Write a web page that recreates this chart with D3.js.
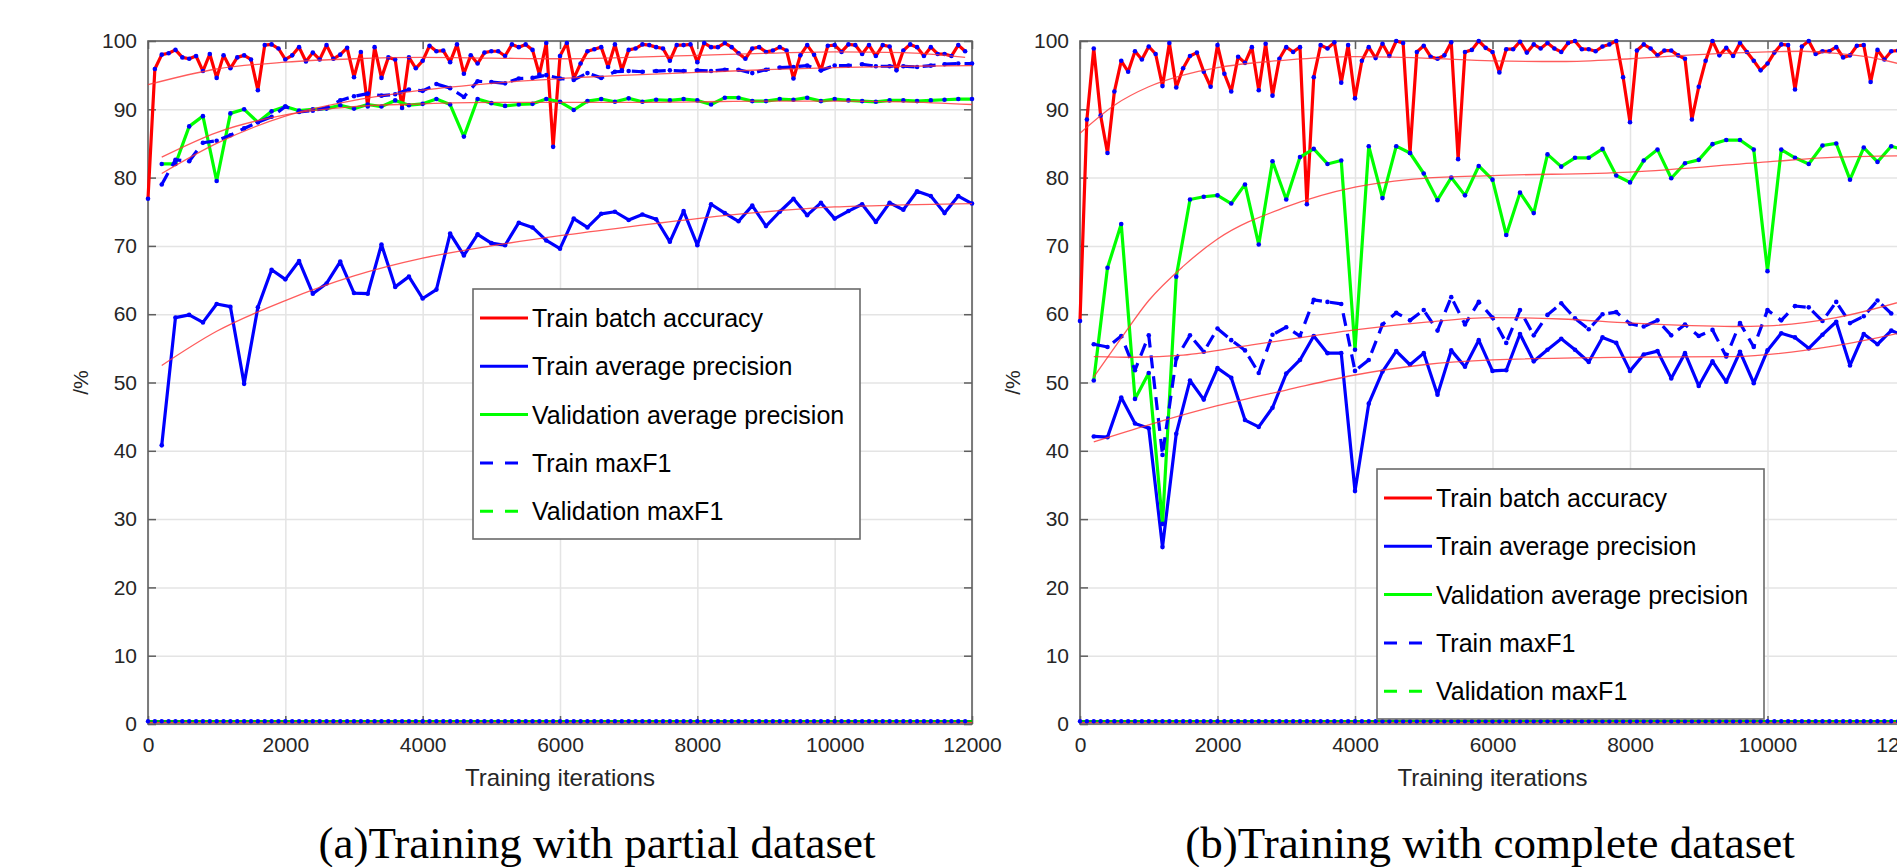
<!DOCTYPE html>
<html>
<head>
<meta charset="utf-8">
<script src="https://cdn.jsdelivr.net/npm/d3@7"></script>
<style>
  body { margin: 0; background: #fff; }
  svg { display: block; font-family: "Liberation Sans", Arial, sans-serif; }
</style>
</head>
<body>
<svg id="chart"></svg>
<script>
// iteration grids (x values)
const accIters = d3.range(0, 12000, 100);      // every 100 iterations, 0..11900
const apIters = d3.range(200, 12001, 200);     // every 200 iterations, 200..12000
const xTicks = [0, 2000, 4000, 6000, 8000, 10000, 12000];
const yTicks = [0, 10, 20, 30, 40, 50, 60, 70, 80, 90, 100];

const legendLabels = ['Train batch accuracy', 'Train average precision', 'Validation average precision', 'Train maxF1', 'Validation maxF1'];
const captions = ['(a)Training with partial dataset', '(b)Training with complete dataset'];

// ---- (a) partial dataset ----
const partialAcc = [
  76.9, 95.9, 98.0, 98.2, 98.7, 97.6, 97.4, 97.8, 95.6, 98.1,
  94.6, 97.9, 96.0, 97.6, 97.9, 97.3, 92.8, 99.4, 99.5, 98.9,
  97.3, 97.9, 99.1, 97.0, 98.3, 97.3, 99.4, 97.4, 98.0, 99.0,
  94.7, 98.4, 90.4, 99.1, 94.6, 97.6, 97.3, 90.2, 97.6, 96.0,
  97.1, 99.3, 98.5, 98.6, 96.9, 99.5, 95.2, 97.9, 96.7, 98.3,
  98.5, 98.5, 97.8, 99.5, 99.1, 99.5, 98.7, 95.1, 99.7, 84.5,
  97.8, 99.7, 94.5, 96.7, 98.5, 98.8, 99.1, 96.2, 99.5, 95.7,
  98.7, 98.9, 99.5, 99.4, 99.1, 98.9, 97.1, 99.4, 99.4, 99.5,
  96.9, 99.7, 99.1, 99.1, 99.7, 99.1, 98.2, 97.4, 98.9, 99.1,
  98.4, 98.6, 99.1, 98.6, 94.5, 97.9, 99.4, 98.0, 95.7, 99.3,
  99.4, 98.4, 99.5, 99.4, 98.1, 99.4, 97.8, 99.4, 99.2, 95.7,
  98.6, 99.5, 99.1, 97.8, 99.1, 98.1, 98.1, 97.8, 99.4, 98.5
];
const partialAP = [
  40.8, 59.5, 59.9, 58.8, 61.5, 61.1, 49.8, 61.0, 66.5, 65.1,
  67.8, 63.0, 64.5, 67.7, 63.1, 63.0, 70.2, 64.0, 65.5, 62.3,
  63.6, 71.8, 68.6, 71.7, 70.4, 70.1, 73.4, 72.7, 70.8, 69.6,
  74.0, 72.7, 74.7, 75.0, 73.8, 74.6, 73.9, 70.6, 75.1, 70.1,
  76.1, 74.8, 73.6, 75.9, 72.9, 75.0, 76.9, 74.5, 76.3, 74.0,
  75.1, 76.1, 73.5, 76.3, 75.3, 78.0, 77.3, 74.8, 77.3, 76.2
];
const partialValAP = [
  82.0, 82.0, 87.5, 89.0, 79.5, 89.4, 90.0, 88.1, 89.7, 90.4,
  89.8, 90.0, 90.1, 90.6, 90.1, 90.7, 90.4, 91.3, 90.6, 90.8,
  91.5, 90.7, 86.0, 91.5, 90.9, 90.5, 90.7, 90.8, 91.5, 91.1,
  89.9, 91.2, 91.5, 91.1, 91.6, 91.1, 91.4, 91.3, 91.5, 91.3,
  90.7, 91.7, 91.7, 91.2, 91.2, 91.5, 91.4, 91.7, 91.2, 91.5,
  91.3, 91.2, 91.1, 91.3, 91.3, 91.2, 91.3, 91.4, 91.5, 91.5
];
const partialF1 = [
  79.0, 82.6, 82.4, 85.1, 85.4, 86.2, 87.2, 88.1, 88.9, 90.4,
  89.6, 89.8, 90.2, 91.3, 91.9, 92.3, 92.0, 92.2, 92.9, 92.7,
  93.7, 93.1, 91.8, 94.1, 94.0, 93.8, 94.5, 94.6, 95.0, 94.5,
  94.3, 95.3, 94.6, 95.5, 95.6, 95.5, 95.6, 95.7, 95.6, 95.7,
  95.6, 95.8, 95.8, 95.3, 95.8, 96.1, 96.2, 96.4, 95.7, 96.4,
  96.4, 96.6, 96.3, 96.3, 96.3, 96.2, 96.4, 96.6, 96.7, 96.7
];
// trend curves [iteration, value]
const partialFitAcc = [[0, 93.6], [1000, 95.9], [2000, 96.9], [3000, 97.4], [4000, 97.6], [5000, 97.5], [6000, 97.4], [7000, 97.6], [8000, 97.9], [9000, 98.2], [10000, 98.4], [11000, 98.3], [11900, 97.6]];
const partialFitAP = [[200, 52.5], [1000, 57.5], [2000, 62.0], [3000, 65.6], [4000, 68.2], [5000, 70.0], [6000, 71.5], [7000, 72.8], [8000, 74.0], [9000, 75.0], [10000, 75.7], [11000, 76.0], [12000, 76.2]];
const partialFitVal = [[200, 83.0], [1000, 86.6], [2000, 89.2], [3000, 90.4], [4000, 90.8], [5000, 91.0], [6000, 91.0], [7000, 91.0], [8000, 91.1], [9000, 91.2], [10000, 91.2], [11000, 91.1], [12000, 90.7]];
const partialFitF1 = [[200, 80.6], [1000, 85.0], [2000, 89.0], [3000, 91.3], [4000, 92.8], [5000, 93.8], [6000, 94.5], [7000, 95.0], [8000, 95.4], [9000, 95.8], [10000, 96.1], [11000, 96.3], [12000, 96.4]];

// ---- (b) complete dataset ----
const completeAcc = [
  59.0, 88.5, 98.9, 89.1, 83.6, 92.6, 97.1, 95.5, 98.5, 97.3,
  99.2, 98.1, 93.4, 99.7, 93.2, 96.0, 97.8, 98.3, 95.5, 93.3,
  99.4, 95.2, 92.6, 97.7, 96.8, 99.1, 92.8, 99.6, 92.0, 97.4,
  99.1, 98.4, 99.1, 76.1, 94.7, 99.4, 98.9, 99.8, 93.9, 99.4,
  91.6, 97.1, 99.1, 97.5, 99.6, 97.8, 100.0, 99.7, 83.6, 98.4,
  99.3, 97.7, 97.4, 97.9, 99.8, 82.7, 98.4, 98.7, 100.0, 99.0,
  98.4, 95.4, 98.8, 98.8, 99.9, 98.3, 99.5, 98.9, 99.7, 98.9,
  98.4, 99.7, 100.0, 98.8, 98.8, 98.5, 99.2, 99.5, 100.0, 94.7,
  88.1, 98.6, 99.5, 98.9, 97.9, 98.6, 98.6, 97.9, 97.4, 88.5,
  93.3, 97.1, 100.0, 97.9, 99.0, 97.8, 99.7, 98.4, 97.1, 95.7,
  96.7, 98.3, 99.5, 99.4, 92.9, 99.2, 100.0, 98.1, 98.5, 98.5,
  99.1, 97.6, 97.9, 99.3, 99.4, 94.0, 98.7, 97.3, 98.5, 98.6
];
const completeAP = [
  42.1, 42.0, 47.8, 44.0, 43.3, 25.9, 42.5, 50.3, 47.5, 52.1,
  50.7, 44.5, 43.5, 46.3, 51.3, 53.3, 56.8, 54.3, 54.3, 34.1,
  46.9, 51.6, 54.6, 52.6, 54.3, 48.2, 54.7, 52.3, 56.2, 51.7,
  51.8, 57.1, 53.1, 54.8, 56.4, 54.8, 53.0, 56.6, 55.8, 51.7,
  54.1, 54.6, 50.6, 54.3, 49.5, 53.1, 50.1, 54.5, 49.9, 54.7,
  57.2, 56.6, 55.0, 57.0, 58.9, 52.5, 57.1, 55.6, 57.6, 56.8
];
const completeValAP = [
  50.3, 66.8, 73.2, 47.6, 51.4, 29.3, 65.5, 76.8, 77.2, 77.4,
  76.2, 79.0, 70.2, 82.4, 76.8, 83.0, 84.2, 82.0, 82.5, 54.8,
  84.6, 77.0, 84.6, 83.6, 80.6, 76.7, 80.0, 77.4, 81.7, 79.7,
  71.6, 77.8, 74.8, 83.4, 81.6, 82.9, 82.9, 84.2, 80.3, 79.3,
  82.5, 84.1, 79.9, 82.1, 82.6, 84.9, 85.5, 85.5, 84.1, 66.3,
  84.1, 82.9, 82.0, 84.7, 85.0, 79.7, 84.4, 82.3, 84.6, 84.0
];
const completeF1 = [
  55.6, 55.2, 56.8, 51.8, 56.9, 39.4, 53.5, 56.9, 54.5, 57.9,
  56.2, 54.7, 51.4, 57.0, 58.1, 56.8, 62.1, 61.8, 61.5, 51.7,
  53.3, 58.5, 60.2, 59.1, 60.6, 57.6, 62.5, 58.5, 61.8, 59.5,
  55.8, 60.6, 56.9, 59.9, 61.6, 59.4, 57.8, 60.0, 60.3, 58.6,
  58.2, 59.1, 56.9, 58.5, 56.8, 57.7, 53.8, 58.7, 55.2, 60.6,
  59.1, 61.2, 61.0, 59.0, 61.8, 58.7, 59.7, 62.0, 60.1, 60.5
];
const completeFitAcc = [[0, 86.5], [500, 90.6], [1000, 93.3], [1500, 95.0], [2000, 96.1], [3000, 97.2], [4000, 97.7], [5000, 97.5], [6000, 97.1], [7000, 97.0], [8000, 97.4], [9000, 98.0], [10000, 98.4], [10500, 98.5], [11000, 98.2], [11500, 97.6], [11900, 96.7]];
const completeFitAP = [[200, 41.3], [1000, 43.8], [2000, 46.6], [3000, 48.9], [4000, 51.1], [5000, 52.6], [6000, 53.3], [8000, 53.7], [9500, 53.8], [11000, 55.4], [12000, 57.4]];
const completeFitVal = [[200, 50.8], [600, 56.5], [1000, 62.0], [1500, 67.0], [2000, 71.0], [3000, 75.7], [4000, 78.6], [5000, 79.9], [6000, 80.3], [8000, 80.8], [10000, 82.3], [11000, 83.0], [12000, 83.2]];
const completeFitF1 = [[200, 53.8], [800, 53.7], [1500, 54.0], [2500, 55.5], [3500, 57.0], [4000, 57.7], [5000, 58.8], [6000, 59.5], [7000, 59.3], [8000, 58.7], [9500, 58.2], [10000, 58.3], [11000, 59.5], [12000, 62.0]];

// validation maxF1 stays at zero in both runs
const validationMaxF1Level = 0.4;

class TrainingChart {

  constructor(_config, _data) {
    this.config = {
      parentElement: _config.parentElement,
      left: _config.left,
      top: _config.top || 41,
      width: _config.width || 824,
      height: _config.height || 683,
      legendX: _config.legendX,
      legendY: _config.legendY,
      caption: _config.caption,
      captionX: _config.captionX
    }
    this.data = _data;
    this.initVis();
  }

  initVis() {
    let vis = this;
    const w = vis.config.width, h = vis.config.height;

    vis.chart = vis.config.parentElement.append('g')
        .attr('transform', `translate(${vis.config.left},${vis.config.top})`);

    vis.x = d3.scaleLinear().domain([0, 12000]).range([0, w]);
    vis.y = d3.scaleLinear().domain([0, 100]).range([h, 0]);

    // grid
    vis.chart.append('g')
        .attr('class', 'grid')
        .call(d3.axisLeft(vis.y).tickValues(yTicks).tickSize(-w).tickFormat(''))
        .call(g => g.select('.domain').remove());
    vis.chart.append('g')
        .attr('class', 'grid')
        .attr('transform', `translate(0,${h})`)
        .call(d3.axisBottom(vis.x).tickValues(xTicks).tickSize(-h).tickFormat(''))
        .call(g => g.select('.domain').remove());
    vis.chart.selectAll('.grid line').attr('stroke', '#e4e4e4').attr('stroke-width', 1.5);

    // box
    vis.chart.append('rect')
        .attr('width', w).attr('height', h)
        .attr('fill', 'none').attr('stroke', '#5f5f5f').attr('stroke-width', 1.6);

    // axes with inward ticks
    vis.chart.append('g')
        .attr('class', 'axis')
        .call(d3.axisLeft(vis.y).tickValues(yTicks).tickSizeInner(-8).tickSizeOuter(0).tickPadding(11));
    vis.chart.append('g')
        .attr('class', 'axis')
        .attr('transform', `translate(${w},0)`)
        .call(d3.axisRight(vis.y).tickValues(yTicks).tickSizeInner(-8).tickSizeOuter(0).tickFormat(''));
    vis.chart.append('g')
        .attr('class', 'axis')
        .attr('transform', `translate(0,${h})`)
        .call(d3.axisBottom(vis.x).tickValues(xTicks).tickSizeInner(-8).tickSizeOuter(0).tickPadding(13).tickFormat(d3.format('d')));
    vis.chart.append('g')
        .attr('class', 'axis')
        .call(d3.axisTop(vis.x).tickValues(xTicks).tickSizeInner(-8).tickSizeOuter(0).tickFormat(''));
    vis.chart.selectAll('.axis .domain').remove();
    vis.chart.selectAll('.axis line').attr('stroke', '#5f5f5f').attr('stroke-width', 1.5);
    vis.chart.selectAll('.axis text')
        .attr('fill', '#262626')
        .style('font-size', '21px')
        .style('font-family', '"Liberation Sans", Arial, sans-serif');

    // labels
    vis.chart.append('text')
        .attr('x', w / 2).attr('y', h + 62)
        .attr('text-anchor', 'middle')
        .attr('fill', '#262626')
        .style('font-size', '24px')
        .text('Training iterations');
    vis.chart.append('text')
        .attr('transform', `translate(-67,${h / 2 - 0}) rotate(-90)`)
        .attr('text-anchor', 'middle')
        .attr('dy', '0.35em')
        .attr('fill', '#262626')
        .style('font-size', '21px')
        .text('/%');
    vis.chart.append('text')
        .attr('x', vis.config.captionX - vis.config.left).attr('y', 817)
        .attr('text-anchor', 'middle')
        .attr('fill', '#000')
        .style('font-family', '"Liberation Serif", "Times New Roman", serif')
        .style('font-size', '45px')
        .text(vis.config.caption);

    vis.line = d3.line().x(d => vis.x(d[0])).y(d => vis.y(d[1]));
    vis.fitLine = d3.line().x(d => vis.x(d[0])).y(d => vis.y(d[1])).curve(d3.curveMonotoneX);

    vis.render();
  }

  render() {
    let vis = this;
    const d = vis.data;
    const zip = (iters, vals) => vals.map((v, i) => [iters[i], v]);

    const series = [
      { pts: zip(accIters, d.acc), color: '#ff0000', dash: null },
      { pts: zip(apIters, d.ap), color: '#0000ff', dash: null },
      { pts: zip(apIters, d.val), color: '#00ff00', dash: null },
      { pts: zip(apIters, d.f1), color: '#0000ff', dash: '13,8' }
    ];

    // zero band (validation maxF1 and friends sitting at 0)
    vis.chart.append('path')
        .attr('d', vis.line([[0, validationMaxF1Level], [12000, validationMaxF1Level]]))
        .attr('fill', 'none').attr('stroke', '#00c000').attr('stroke-width', 2.5);
    vis.chart.append('path')
        .attr('d', vis.line([[0, validationMaxF1Level * 0.5], [12000, validationMaxF1Level * 0.5]]))
        .attr('fill', 'none').attr('stroke', '#ff3030').attr('stroke-width', 1);
    vis.chart.append('g').selectAll('circle')
        .data(accIters)
      .join('circle')
        .attr('cx', it => vis.x(it))
        .attr('cy', vis.y(validationMaxF1Level))
        .attr('r', 2.2)
        .attr('fill', '#0000ff');

    vis.chart.selectAll('.series')
        .data(series)
      .join('path')
        .attr('class', 'series')
        .attr('d', s => vis.line(s.pts))
        .attr('fill', 'none')
        .attr('stroke', s => s.color)
        .attr('stroke-width', 3.2)
        .attr('stroke-linejoin', 'round')
        .attr('stroke-dasharray', s => s.dash);

    // blue point markers
    vis.chart.append('g').selectAll('circle')
        .data(series.flatMap(s => s.pts))
      .join('circle')
        .attr('cx', p => vis.x(p[0]))
        .attr('cy', p => vis.y(p[1]))
        .attr('r', 2.3)
        .attr('fill', '#0000ff');

    // trend curves
    vis.chart.selectAll('.fit')
        .data([d.fitAcc, d.fitAP, d.fitVal, d.fitF1])
      .join('path')
        .attr('class', 'fit')
        .attr('d', f => vis.fitLine(f))
        .attr('fill', 'none')
        .attr('stroke', '#ff3333')
        .attr('stroke-opacity', 0.8)
        .attr('stroke-width', 1.3);

    vis.renderLegend();
  }

  renderLegend() {
    let vis = this;
    const lg = vis.config.parentElement.append('g')
        .attr('transform', `translate(${vis.config.legendX},${vis.config.legendY})`);
    lg.append('rect')
        .attr('width', 387).attr('height', 250)
        .attr('fill', '#fff').attr('stroke', '#6a6a6a').attr('stroke-width', 1.6);
    const colors = ['#ff0000', '#0000ff', '#00ff00', '#0000ff', '#00ff00'];
    const dashes = [null, null, null, '13,12', '13,12'];
    const rows = lg.selectAll('.row')
        .data(legendLabels)
      .join('g')
        .attr('class', 'row')
        .attr('transform', (t, i) => `translate(0,${29 + i * 48.3})`);
    rows.append('line')
        .attr('x1', 7).attr('x2', 55)
        .attr('stroke', (t, i) => colors[i])
        .attr('stroke-width', 3)
        .attr('stroke-dasharray', (t, i) => dashes[i]);
    rows.append('text')
        .attr('x', 59).attr('y', 9)
        .attr('fill', '#000')
        .style('font-size', '25px')
        .text(t => t);
  }
}

const svg = d3.select('#chart').attr('width', 1897).attr('height', 867);
svg.append('rect').attr('width', 1897).attr('height', 867).attr('fill', '#fff');

new TrainingChart({
  parentElement: svg, left: 148, width: 824,
  legendX: 473, legendY: 289,
  caption: captions[0], captionX: 597
}, {
  acc: partialAcc, ap: partialAP, val: partialValAP, f1: partialF1,
  fitAcc: partialFitAcc, fitAP: partialFitAP, fitVal: partialFitVal, fitF1: partialFitF1
});

new TrainingChart({
  parentElement: svg, left: 1080, width: 825,
  legendX: 1377, legendY: 469,
  caption: captions[1], captionX: 1490
}, {
  acc: completeAcc, ap: completeAP, val: completeValAP, f1: completeF1,
  fitAcc: completeFitAcc, fitAP: completeFitAP, fitVal: completeFitVal, fitF1: completeFitF1
});
</script>
</body>
</html>
